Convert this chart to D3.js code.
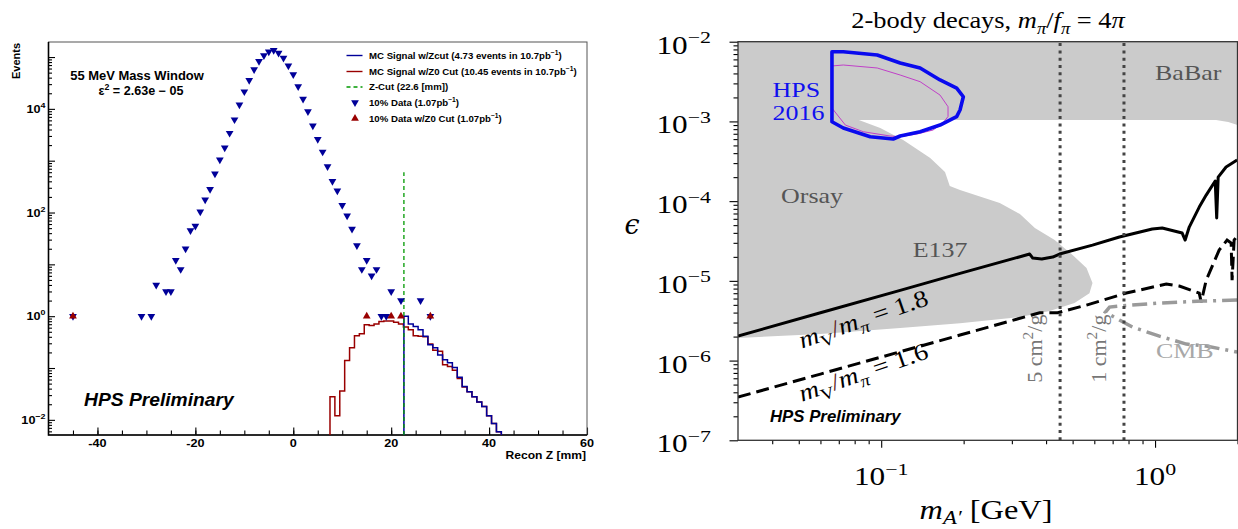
<!DOCTYPE html>
<html>
<head>
<meta charset="utf-8">
<script src="https://cdn.jsdelivr.net/npm/d3@7"></script>
<style>
  body { margin: 0; background: #fff; }
  svg { display: block; }
</style>
</head>
<body>
<div id="viz-container"></div>
<script>
// ---------- left panel: Recon Z, 55 MeV mass window ----------
const dataZ = [-45, -31, -29, -28, -26, -25, -24, -23, -22, -21, -20,
  -19, -18, -17, -16, -15, -14, -13, -12, -11, -10, -9, -8, -7, -6, -5, -4, -3, -2, -1,
  0, 1, 2, 3, 4, 5, 6, 7, 8, 9, 10, 11, 12, 13, 14, 15, 16, 17, 18, 19, 20, 22, 26, 28];
const dataEvents = [1, 1, 1, 4, 3, 3, 12, 8, 20, 45, 55,
  103, 176, 280, 560, 1045, 1780, 3400, 6200, 12000, 21500, 35500, 57500, 83000, 107000, 126000, 135000, 120000, 95500, 68000,
  46000, 27000, 15500, 8900, 4700, 2600, 1480, 775, 400, 263, 138, 87, 48, 23, 8, 12, 6, 8, 1, 1, 3, 2, 2, 1];

const cutZ = [-45, 15, 20, 22, 28];
const cutEvents = [1, 1, 1, 1, 1];

// MC histograms, 1 mm bins
const histBinWidth = 1;
const mcZ0Start = 7.5;
const mcZ0Values = [0.028, 0.012, 0.036, 0.14, 0.245, 0.42, 0.46, 0.68, 0.66, 0.71, 0.79, 0.81, 0.81,
  0.76, 0.71, 0.62, 0.55, 0.42, 0.41, 0.40, 0.29, 0.22, 0.21, 0.115, 0.107, 0.091, 0.063, 0.043,
  0.035, 0.028, 0.022, 0.018, 0.012, 0.0085, 0.0059];
const mcZcutStart = 22.5;
const mcZcutValues = [1.0, 0.71, 0.63, 0.55, 0.41, 0.28, 0.245, 0.178, 0.145, 0.126, 0.102, 0.066,
  0.044, 0.035, 0.028, 0.022, 0.018, 0.012, 0.0085, 0.0059];
const zCut = 22.6;
const zCutLineTop = 600;

const zTicks = [-40, -20, 0, 20, 40, 60];
const eventTicks = [1e-2, 1, 1e2, 1e4];
const eventTickExp = ["−2", "0", "2", "4"];

const legendLabels = [
  ["MC Signal w/Zcut (4.73 events in 10.7pb", "−1", ")"],
  ["MC Signal w/Z0 Cut (10.45 events in 10.7pb", "−1", ")"],
  ["Z-Cut (22.6 [mm])", "", ""],
  ["10% Data (1.07pb", "−1", ")"],
  ["10% Data w/Z0 Cut (1.07pb", "−1", ")"]
];

// ---------- right panel: epsilon vs m_A' ----------
const babarMass = [0.03, 1.67, 1.85, 2.0];
const babarEps = [1.04e-3, 1.04e-3, 9.8e-4, 9.0e-4];

const orsayMass = [0.0824, 0.0992, 0.1203, 0.151, 0.171, 0.178, 0.194, 0.271, 0.321, 0.364, 0.430,
  0.500, 0.562, 0.591, 0.576, 0.508, 0.412, 0.321, 0.194, 0.1173, 0.060, 0.03, 0.03];
const orsayEps = [1.05e-3, 8.26e-4, 5.85e-4, 3.47e-4, 2.32e-4, 1.55e-4, 1.38e-4, 9.46e-5, 6.89e-5, 4.6e-5, 3.25e-5,
  2.11e-5, 1.45e-5, 9.4e-6, 7.0e-6, 5.26e-6, 4.18e-6, 3.51e-6, 2.95e-6, 2.56e-6, 2.15e-6, 1.92e-6, 1.05e-3];

const hpsMass = [0.0661, 0.0727, 0.0967, 0.1173, 0.1387, 0.164, 0.1886, 0.1995, 0.194, 0.1886,
  0.164, 0.1387, 0.1173, 0.1106, 0.0912, 0.0727, 0.0661];
const hpsEps = [7.49e-3, 7.49e-3, 6.81e-3, 5.41e-3, 4.68e-3, 3.31e-3, 2.62e-3, 2.04e-3, 1.39e-3, 1.15e-3,
  9.0e-4, 7.43e-4, 6.56e-4, 6.02e-4, 6.43e-4, 8.27e-4, 9.9e-4];

const hpsInnerMass = [0.0661, 0.0727, 0.0967, 0.1173, 0.1387, 0.164, 0.1754, 0.1754, 0.168, 0.1546,
  0.1352, 0.1173, 0.1078, 0.086, 0.074, 0.0661];
const hpsInnerEps = [4.96e-3, 5.1e-3, 4.68e-3, 3.82e-3, 3.15e-3, 2.14e-3, 1.53e-3, 1.15e-3, 9.55e-4, 7.8e-4,
  6.95e-4, 6.43e-4, 6.56e-4, 7.43e-4, 9.0e-4, 1.47e-3];

// m_V / m_pi = 1.8 (solid) and 1.6 (dashed)
const r18Mass = [0.030, 0.060, 0.1173, 0.194, 0.3485, 0.3576, 0.3857, 0.423, 0.448, 0.591, 0.741, 0.977,
  1.062, 1.256, 1.288, 1.333, 1.45, 1.537, 1.658, 1.679, 1.70, 1.817, 1.993];
const r18Eps = [2.03e-6, 3.98e-6, 7.6e-6, 1.24e-5, 2.17e-5, 1.93e-5, 1.88e-5, 1.99e-5, 2.17e-5, 2.81e-5, 3.55e-5, 4.47e-5,
  4.6e-5, 3.98e-5, 3.25e-5, 4.73e-5, 8.43e-5, 1.19e-4, 1.79e-4, 6.14e-5, 2.0e-4, 2.68e-4, 3.28e-4];

const r16Mass = [0.030, 0.060, 0.1173, 0.194, 0.379, 0.441, 0.562, 0.786, 1.099, 1.226, 1.45, 1.474,
  1.537, 1.714, 1.832, 1.896, 1.911, 1.944, 1.993];
const r16Eps = [3.48e-7, 6.77e-7, 1.29e-6, 2.09e-6, 3.98e-6, 3.98e-6, 4.97e-6, 7.03e-6, 9.12e-6, 8.6e-6, 7.03e-6, 5.42e-6,
  1.02e-5, 2.43e-5, 3.25e-5, 2.98e-5, 1.02e-5, 3.25e-5, 3.65e-5];

const cmbUpperMass = [0.659, 0.682, 0.741, 1.037, 1.486, 1.993];
const cmbUpperEps = [4.06e-6, 4.69e-6, 4.83e-6, 5.26e-6, 5.58e-6, 5.74e-6];
const cmbLowerMass = [0.659, 0.741, 0.827, 1.037, 1.30, 1.537, 1.993];
const cmbLowerEps = [4.06e-6, 3.22e-6, 2.63e-6, 2.03e-6, 1.61e-6, 1.52e-6, 1.28e-6];

const sidmMass = [0.45, 0.77];
const sidmLabels = [["5 cm", "2", "/g"], ["1 cm", "2", "/g"]];

const massTicks = [0.1, 1];
const massTickExp = ["−1", "0"];
const epsTicks = [1e-7, 1e-6, 1e-5, 1e-4, 1e-3, 1e-2];
const epsTickExp = ["−7", "−6", "−5", "−4", "−3", "−2"];

const SANS = "'Liberation Sans', Arial, sans-serif";
const SERIF = "'Liberation Serif', 'Times New Roman', serif";

const svg = d3.select("#viz-container").append("svg")
  .attr("width", 1238)
  .attr("height", 529);

// text made of pieces: strings or {t, it, sub, sup, fill}
function richText(parent, x, y, parts, o = {}) {
  const size = o.size || 22;
  const g = parent.append("g")
    .attr("transform", `translate(${x},${y}) rotate(${o.rotate || 0}) scale(${o.sx || 1},1)`);
  const t = g.append("text")
    .attr("text-anchor", o.anchor || "start")
    .attr("font-family", o.family || SERIF)
    .attr("font-size", size)
    .attr("font-weight", o.weight || "normal")
    .attr("font-style", o.style || "normal")
    .attr("fill", o.fill || "#000");
  let shift = 0;
  parts.forEach(p => {
    if (typeof p === "string") p = {t: p};
    if (p.t === "") return;
    const target = p.sub ? (o.subShift || 0.25) * size : p.sup ? -0.42 * size : 0;
    const ts = t.append("tspan").text(p.t).attr("dy", target - shift);
    shift = target;
    if (p.sub || p.sup) ts.attr("font-size", size * 0.7);
    if (p.it) ts.attr("font-style", "italic");
    if (p.fill) ts.attr("fill", p.fill);
  });
  return t;
}

// ================= LEFT PANEL =================
const zx = d3.scaleLinear().domain([-50, 60]).range([48.5, 587]);
const zy = d3.scaleLog().domain([0.0051, 1.95e5]).range([435, 42]);
const [zy0, zy1] = zy.domain();

const left = svg.append("g");

// minor ticks (positions only)
const zMinor = d3.range(-45, 60, 5);
const yMinor = [];
for (let e = -3; e <= 5; e++) for (let k = 2; k <= 9; k++) {
  const v = k * Math.pow(10, e);
  if (v > zy0 && v < zy1) yMinor.push(v);
}
const yMajor = d3.range(-2, 6).map(e => Math.pow(10, e));

function tickStyle(g) {
  g.select(".domain").remove();
  g.selectAll(".tick line").attr("stroke", "#000").attr("stroke-width", 1.1);
  g.selectAll(".tick text").remove();
}

left.append("g").attr("transform", `translate(${zx(-50)},0)`)
  .call(d3.axisRight(zy).tickValues(yMinor).tickSize(3.5)).call(tickStyle);
left.append("g").attr("transform", `translate(${zx(-50)},0)`)
  .call(d3.axisRight(zy).tickValues(yMajor).tickSize(6.5)).call(tickStyle);
left.append("g").attr("transform", `translate(0,${zy(zy0)})`)
  .call(d3.axisTop(zx).tickValues(zMinor).tickSize(4.5)).call(tickStyle);
left.append("g").attr("transform", `translate(0,${zy(zy0)})`)
  .call(d3.axisTop(zx).tickValues(zTicks).tickSize(7.5)).call(tickStyle);

// frame
left.append("rect")
  .attr("x", zx(-50)).attr("y", zy(zy1))
  .attr("width", zx(60) - zx(-50)).attr("height", zy(zy0) - zy(zy1))
  .attr("fill", "none").attr("stroke", "#555").attr("stroke-width", 1);
left.append("path")
  .attr("d", `M${zx(-50)},${zy(zy1)}V${zy(zy0)}H${zx(60)}`)
  .attr("fill", "none").attr("stroke", "#000").attr("stroke-width", 1.6);

// tick labels
zTicks.forEach(v => {
  richText(left, zx(v), 446.5, [String(v)], {family: SANS, weight: "bold", size: 11.5, anchor: "middle", sx: 1.1});
});
eventTicks.forEach((v, i) => {
  richText(left, 45.5, zy(v) + 4, ["10", {t: eventTickExp[i], sup: true}],
    {family: SANS, weight: "bold", size: 11.5, anchor: "end", sx: 1.1});
});

// axis titles
richText(left, 20, 43, ["Events"], {family: SANS, weight: "bold", size: 11, anchor: "end", rotate: -90});
richText(left, 586, 459, ["Recon Z [mm]"], {family: SANS, weight: "bold", size: 11.5, anchor: "end", sx: 1.05});

// annotations
richText(left, 137, 79.5, ["55 MeV Mass Window"], {family: SANS, weight: "bold", size: 12, anchor: "middle", sx: 1.08});
richText(left, 141, 95, ["ε", {t: "2", sup: true}, " = 2.63e − 05"], {family: SANS, weight: "bold", size: 12, anchor: "middle", sx: 1.05});
richText(left, 84, 406, ["HPS Preliminary"], {family: SANS, weight: "bold", style: "italic", size: 17.5, sx: 1.1});

// MC histograms (step outlines)
function histPoints(start, values, clipLo) {
  const pts = [[Math.max(start, clipLo), zy0]];
  values.forEach((v, i) => pts.push([Math.max(start + i * histBinWidth, clipLo), v]));
  pts.push([start + values.length * histBinWidth, zy0]);
  return pts;
}
const stepLine = d3.line().curve(d3.curveStepAfter)
  .x(d => zx(d[0])).y(d => zy(Math.max(d[1], zy0)));

left.append("path")
  .attr("d", stepLine(histPoints(mcZ0Start, mcZ0Values, -Infinity)))
  .attr("fill", "none").attr("stroke", "#990000").attr("stroke-width", 1.5);
left.append("path")
  .attr("d", stepLine(histPoints(mcZcutStart, mcZcutValues, zCut)))
  .attr("fill", "none").attr("stroke", "#000099").attr("stroke-width", 1.5);

// z-cut line
left.append("line")
  .attr("x1", zx(zCut)).attr("x2", zx(zCut))
  .attr("y1", zy(zy0)).attr("y2", zy(zCutLineTop))
  .attr("stroke", "#009900").attr("stroke-width", 1.3).attr("stroke-dasharray", "4,3");

// data markers
const triDown = d3.symbol().type(d3.symbolTriangle).size(26);
left.append("g").selectAll("path")
  .data(d3.zip(dataZ, dataEvents))
  .join("path")
    .attr("d", triDown)
    .attr("transform", d => `translate(${zx(d[0])},${zy(d[1])}) rotate(180)`)
    .attr("fill", "#000099");
left.append("g").selectAll("path")
  .data(d3.zip(cutZ, cutEvents))
  .join("path")
    .attr("d", triDown)
    .attr("transform", d => `translate(${zx(d[0])},${zy(d[1])})`)
    .attr("fill", "#990000");

// legend
const legY = [55.5, 71.5, 87, 102.5, 118.5];
legendLabels.forEach((lab, i) => {
  const y = legY[i];
  if (i < 3) {
    left.append("line").attr("x1", 346.5).attr("x2", 362.5).attr("y1", y).attr("y2", y)
      .attr("stroke", ["#000099", "#990000", "#009900"][i])
      .attr("stroke-width", 1.4)
      .attr("stroke-dasharray", i === 2 ? "4,3" : null);
  } else {
    left.append("path").attr("d", triDown)
      .attr("transform", `translate(355,${y}) rotate(${i === 3 ? 180 : 0})`)
      .attr("fill", i === 3 ? "#000099" : "#990000");
  }
  richText(left, 369, y + 3.4, [lab[0], {t: lab[1], sup: true}, lab[2]],
    {family: SANS, weight: "bold", size: 9, sx: 1.07});
});

// ================= RIGHT PANEL =================
const xR = d3.scaleLog().domain([0.03, 2]).range([738, 1237.5]);
const yR = d3.scaleLog().domain([1e-7, 1e-2]).range([440.3, 41.7]);
const [m0, m1] = xR.domain();
const [e0, e1] = yR.domain();

const right = svg.append("g");
right.append("clipPath").attr("id", "clipR")
  .append("rect")
    .attr("x", xR(m0)).attr("y", yR(e1))
    .attr("width", xR(m1) - xR(m0)).attr("height", yR(e0) - yR(e1));

const plot = right.append("g").attr("clip-path", "url(#clipR)");
const curve = d3.line().x(d => xR(d[0])).y(d => yR(d[1]));
const GRAY = "#cbcbcb";

// BaBar band
const babarPoly = [[m0, e1], [m1, e1]].concat(d3.zip(babarMass, babarEps).reverse());
plot.append("path").attr("d", curve(babarPoly) + "Z").attr("fill", GRAY);
// Orsay / E137 region
plot.append("path").attr("d", curve(d3.zip(orsayMass, orsayEps)) + "Z").attr("fill", GRAY);

// HPS 2016 reach
plot.append("path").attr("d", curve(d3.zip(hpsInnerMass, hpsInnerEps)))
  .attr("fill", "none").attr("stroke", "#c040c8").attr("stroke-width", 1);
plot.append("path").attr("d", curve(d3.zip(hpsMass, hpsEps)) + "Z")
  .attr("fill", "none").attr("stroke", "#0a0aee").attr("stroke-width", 3.6)
  .attr("stroke-linejoin", "round");

// relic lines
plot.append("path").attr("d", curve(d3.zip(r18Mass, r18Eps)))
  .attr("fill", "none").attr("stroke", "#000").attr("stroke-width", 3).attr("stroke-linejoin", "round");
plot.append("path").attr("d", curve(d3.zip(r16Mass, r16Eps)))
  .attr("fill", "none").attr("stroke", "#000").attr("stroke-width", 3)
  .attr("stroke-dasharray", "13,6");

// CMB
const cmbPts = d3.zip(cmbUpperMass, cmbUpperEps).reverse().concat(d3.zip(cmbLowerMass, cmbLowerEps).slice(1));
plot.append("path").attr("d", curve(cmbPts))
  .attr("fill", "none").attr("stroke", "#9a9a9a").attr("stroke-width", 3.5)
  .attr("stroke-dasharray", "15,6,3,6");

// SIDM cross sections
sidmMass.forEach(m => {
  plot.append("line")
    .attr("x1", xR(m)).attr("x2", xR(m)).attr("y1", yR(e0)).attr("y2", yR(e1))
    .attr("stroke", "#444").attr("stroke-width", 3).attr("stroke-dasharray", "3,4.3");
});

// labels in the plot
richText(right, xR(0.0401), yR(2.04e-3), ["HPS"], {size: 22, fill: "#1010ee", sx: 1.18});
richText(right, xR(0.0401), yR(1.04e-3), ["2016"], {size: 22, fill: "#1010ee", sx: 1.18});
richText(right, xR(0.0431), yR(9.6e-5), ["Orsay"], {size: 22, fill: "#555", sx: 1.18});
richText(right, xR(0.1304), yR(1.98e-5), ["E137"], {size: 22, fill: "#555", sx: 1.18});
richText(right, xR(1.0), yR(3.34e-3), ["BaBar"], {size: 22, fill: "#555", sx: 1.18});
richText(right, xR(1.007), yR(1.07e-6), ["CMB"], {size: 22, fill: "#a8a8a8", sx: 1.18});

const ratioLabel = v => [{t: "m", it: true}, {t: "V", sub: true}, {t: "/", fill: "#5a2020"},
  {t: "m", it: true}, {t: "π", sub: true, it: true}, " = " + v];
richText(right, xR(0.0514), yR(1.42e-6), ratioLabel("1.8"), {size: 24, rotate: -19, sx: 1.15});
richText(right, xR(0.0514), yR(3.04e-7), ratioLabel("1.6"), {size: 24, rotate: -19, sx: 1.15});

sidmMass.forEach((m, i) => {
  const lab = sidmLabels[i];
  richText(right, xR(m) - 18, yR(5.26e-7), [lab[0], {t: lab[1], sup: true}, lab[2]],
    {size: 22, rotate: -90, fill: "#777"});
});

richText(right, 770, 421.7, ["HPS Preliminary"], {family: SANS, weight: "bold", style: "italic", size: 16, sx: 1.05});

// axes
const mMinor = [];
for (let e = -2; e <= 0; e++) for (let k = 2; k <= 9; k++) {
  const v = k * Math.pow(10, e);
  if (v > m0 && v <= m1) mMinor.push(v);
}
const epsMinor = [];
for (let e = -7; e <= -3; e++) for (let k = 2; k <= 9; k++) epsMinor.push(k * Math.pow(10, e));

right.append("g").attr("transform", `translate(0,${yR(e0)})`)
  .call(d3.axisBottom(xR).tickValues(mMinor).tickSize(4)).call(tickStyle);
right.append("g").attr("transform", `translate(0,${yR(e0)})`)
  .call(d3.axisBottom(xR).tickValues(massTicks).tickSize(7.5)).call(tickStyle);
right.append("g").attr("transform", `translate(${xR(m0)},0)`)
  .call(d3.axisLeft(yR).tickValues(epsMinor).tickSize(4.5)).call(tickStyle);
right.append("g").attr("transform", `translate(${xR(m0)},0)`)
  .call(d3.axisLeft(yR).tickValues(epsTicks).tickSize(8.5)).call(tickStyle);

right.append("rect")
  .attr("x", xR(m0)).attr("y", yR(e1))
  .attr("width", xR(m1) - xR(m0)).attr("height", yR(e0) - yR(e1))
  .attr("fill", "none").attr("stroke", "#333").attr("stroke-width", 1.3);

massTicks.forEach((v, i) => {
  richText(right, xR(v), 485, ["10", {t: massTickExp[i], sup: true}], {size: 25, anchor: "middle", sx: 1.25});
});
epsTicks.forEach((v, i) => {
  richText(right, 711, yR(v) + 12, ["10", {t: epsTickExp[i], sup: true}], {size: 25, anchor: "end", sx: 1.25});
});

// titles
richText(right, 988, 28,
  ["2-body decays, ", {t: "m", it: true}, {t: "π", sub: true, it: true}, "/", {t: "f", it: true}, {t: "π", sub: true, it: true}, " = 4", {t: "π", it: true}],
  {size: 23, anchor: "middle", sx: 1.15});
richText(right, 986, 519, [{t: "m", it: true}, {t: "A′", sub: true, it: true}, " [GeV]"],
  {size: 27, anchor: "middle", sx: 1.2, subShift: 0.18});
richText(right, 632, 234, [{t: "ϵ", it: true}], {size: 27, anchor: "middle", family: "'DejaVu Serif', serif"});
</script>
</body>
</html>
